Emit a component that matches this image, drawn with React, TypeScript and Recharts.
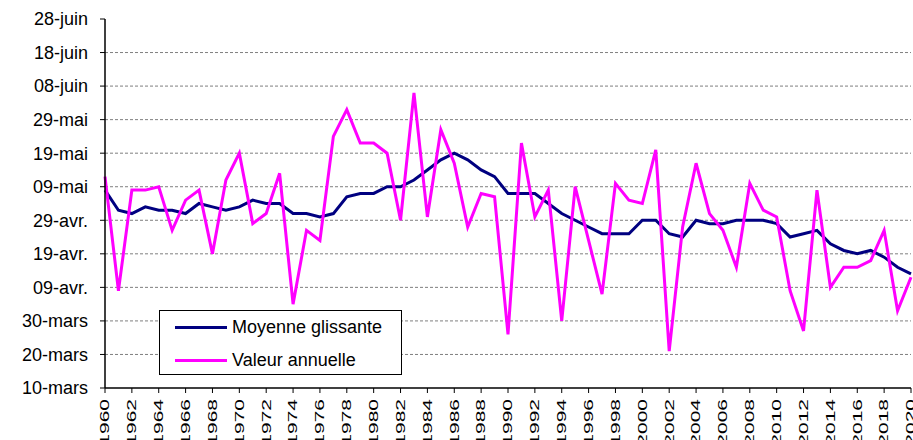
import { LineChart, Line, XAxis, YAxis, ReferenceLine } from 'recharts';

const years = [
  1960, 1961, 1962, 1963, 1964, 1965, 1966, 1967, 1968, 1969,
  1970, 1971, 1972, 1973, 1974, 1975, 1976, 1977, 1978, 1979,
  1980, 1981, 1982, 1983, 1984, 1985, 1986, 1987, 1988, 1989,
  1990, 1991, 1992, 1993, 1994, 1995, 1996, 1997, 1998, 1999,
  2000, 2001, 2002, 2003, 2004, 2005, 2006, 2007, 2008, 2009,
  2010, 2011, 2012, 2013, 2014, 2015, 2016, 2017, 2018, 2019, 2020,
];

// days after 10 March
const valeurAnnuelle = [
  63, 29, 59, 59, 60, 47, 56, 59, 40, 62,
  70, 49, 52, 64, 25, 47, 44, 75, 83, 73,
  73, 70, 50, 88, 51, 77, 67, 48, 58, 57,
  16, 73, 51, 59, 20, 60, 44, 28, 61, 56,
  55, 71, 11, 48, 67, 52, 47, 36, 61, 53,
  51, 29, 17, 59, 30, 36, 36, 38, 47, 23, 33,
];

const moyenneGlissante = [
  59, 53, 52, 54, 53, 53, 52, 55, 54, 53,
  54, 56, 55, 55, 52, 52, 51, 52, 57, 58,
  58, 60, 60, 62, 65, 68, 70, 68, 65, 63,
  58, 58, 58, 55, 52, 50, 48, 46, 46, 46,
  50, 50, 46, 45, 50, 49, 49, 50, 50, 50,
  49, 45, 46, 47, 43, 41, 40, 41, 39, 36, 34,
];

const yTicks = [0, 10, 20, 30, 40, 50, 60, 70, 80, 90, 100, 110];
const yTickLabels = [
  '10-mars', '20-mars', '30-mars', '09-avr.', '19-avr.', '29-avr.',
  '09-mai', '19-mai', '29-mai', '08-juin', '18-juin', '28-juin',
];
const xTicks = [
  1960, 1962, 1964, 1966, 1968, 1970, 1972, 1974, 1976, 1978, 1980,
  1982, 1984, 1986, 1988, 1990, 1992, 1994, 1996, 1998, 2000,
  2002, 2004, 2006, 2008, 2010, 2012, 2014, 2016, 2018, 2020,
];

const legendItems = [
  { label: 'Moyenne glissante', color: '#000080' },
  { label: 'Valeur annuelle', color: '#ff00ff' },
];

const data = years.map((year, i) => ({
  year,
  moyenne: moyenneGlissante[i],
  valeur: valeurAnnuelle[i],
}));

const FONT = '"Liberation Sans", Arial, sans-serif';

const YearTick = (props: any) => {
  const { x, y, payload } = props;
  return (
    <g transform={`translate(${x},${y}) rotate(-90) scale(1,0.6)`}>
      <text
        x={0}
        y={0}
        textAnchor="end"
        dominantBaseline="central"
        fontSize={21}
        fontFamily={FONT}
        fill="#000"
      >
        {payload.value}
      </text>
    </g>
  );
};

const LegendBox = () => (
  <div
    style={{
      position: 'absolute',
      left: 159,
      top: 310,
      width: 241,
      height: 63,
      border: '1px solid #000',
      background: '#fff',
      fontFamily: FONT,
      fontSize: 18,
      color: '#000',
    }}
  >
    {legendItems.map((item, i) => (
      <div key={item.label}>
        <div
          style={{
            position: 'absolute',
            left: 15,
            top: 15 + i * 33,
            width: 52,
            height: 3,
            background: item.color,
          }}
        />
        <div
          style={{
            position: 'absolute',
            left: 72,
            top: 5 + i * 33,
            lineHeight: '22px',
            whiteSpace: 'nowrap',
          }}
        >
          {item.label}
        </div>
      </div>
    ))}
  </div>
);

export default function App() {
  return (
    <div style={{ position: 'absolute', left: 0, top: 0, width: 913, height: 440, background: '#fff', overflow: 'hidden' }}>
      <LineChart
        width={913}
        height={440}
        data={data}
        margin={{ top: 19, right: 2, bottom: 0, left: 0 }}
      >
        {yTicks.slice(1, -1).map((v) => (
          <ReferenceLine key={v} y={v} stroke="#7f7f7f" strokeDasharray="3 2" strokeWidth={1} />
        ))}
        <XAxis
          dataKey="year"
          type="number"
          domain={[1960, 2020]}
          ticks={xTicks}
          interval={0}
          height={52}
          tickSize={5}
          tickMargin={6}
          tick={<YearTick />}
          axisLine={{ stroke: '#000', strokeWidth: 1.5 }}
          tickLine={{ stroke: '#000' }}
        />
        <YAxis
          type="number"
          domain={[0, 110]}
          ticks={yTicks}
          interval={0}
          width={105}
          tickSize={5}
          tickMargin={12}
          tickFormatter={(v: number) => yTickLabels[yTicks.indexOf(v)]}
          tick={{ fill: '#000', fontSize: 18, fontFamily: FONT }}
          axisLine={{ stroke: '#000', strokeWidth: 1.5 }}
          tickLine={{ stroke: '#000' }}
        />
        <Line
          type="linear"
          dataKey="moyenne"
          name="Moyenne glissante"
          stroke="#000080"
          strokeWidth={3}
          dot={false}
          isAnimationActive={false}
        />
        <Line
          type="linear"
          dataKey="valeur"
          name="Valeur annuelle"
          stroke="#ff00ff"
          strokeWidth={3}
          dot={false}
          isAnimationActive={false}
        />
      </LineChart>
      <LegendBox />
    </div>
  );
}
